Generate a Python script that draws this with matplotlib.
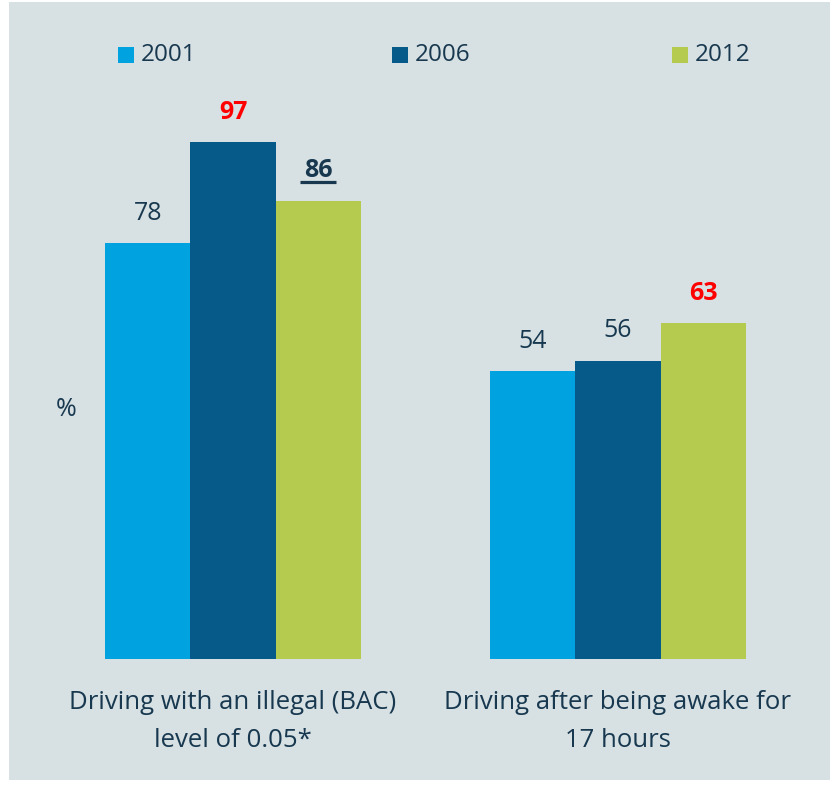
import numpy as np
import matplotlib.pyplot as plt
from matplotlib.patches import Rectangle

categories = ["Driving with an illegal (BAC)\nlevel of 0.05*", "Driving after being awake for\n17 hours"]
years = ["2001", "2006", "2012"]
values_2001 = [78, 54]
values_2006 = [97, 56]
values_2012 = [86, 63]

colors = ["#00a3e0", "#065a8a", "#b5cb50"]
txt = "#17384f"
plt.rcParams['font.family'] = ['Open Sans', 'DejaVu Sans']

W, H = 831, 785
fig = plt.figure(figsize=(W/100, H/100), dpi=100, facecolor="white")
# light panel behind everything
fig.add_artist(Rectangle((9/W, 1-780/H), (830-9)/W, (780-2)/H, transform=fig.transFigure,
                         facecolor="#d7e0e3", edgecolor="none", zorder=-5))

left, right, top, bottom = 40, 800, 99.35, 659
ax = fig.add_axes([left/W, 1-bottom/H, (right-left)/W, (bottom-top)/H])
ax.set_zorder(2)
ax.set_facecolor("none")
ax.set_xlim((left-233)/385, (right-233)/385)
ax.set_ylim(0, 105)
ax.axis("off")

x = np.arange(len(categories))
w = 0.221
series = [values_2001, values_2006, values_2012]
for i, (vals, c) in enumerate(zip(series, colors)):
    xs = x + (i-1)*w
    ax.bar(xs, vals, width=w, color=c, label=years[i])
    for xi, v in zip(xs, vals):
        style = dict(color=txt, fontsize=18, fontweight="normal")
        if v in (97, 63):
            style = dict(color="#ff0000", fontsize=18, fontweight="bold")
        if v == 86:
            style = dict(color=txt, fontsize=18, fontweight="bold")
        ax.annotate(str(v), (xi, v), xytext=(0, 21.5), textcoords="offset points",
                    ha="center", va="center", **style)
        if v == 86:
            ax.plot([xi-0.046, xi+0.046], [v+3.4, v+3.4], color=txt, lw=2.3,
                    solid_capstyle="butt", clip_on=False)

for xi, cat in zip(x, categories):
    ax.text(xi, -5.8, cat, ha="center", va="top", fontsize=18.5, color=txt, linespacing=1.67)

fig.text(66/W, 1-410/H, "%", ha="center", va="center", fontsize=18, color=txt)

# legend
leg_x = [118, 392, 672]
for lx, yr, c in zip(leg_x, years, colors):
    fig.add_artist(Rectangle((lx/W, 1-63/H), 16/W, 16/H, transform=fig.transFigure,
                             facecolor=c, edgecolor="none"))
    fig.text((lx+23)/W, 1-55/H, yr, ha="left", va="center", fontsize=17.5, color=txt)

fig.savefig("out.png", dpi=100, facecolor="white")
